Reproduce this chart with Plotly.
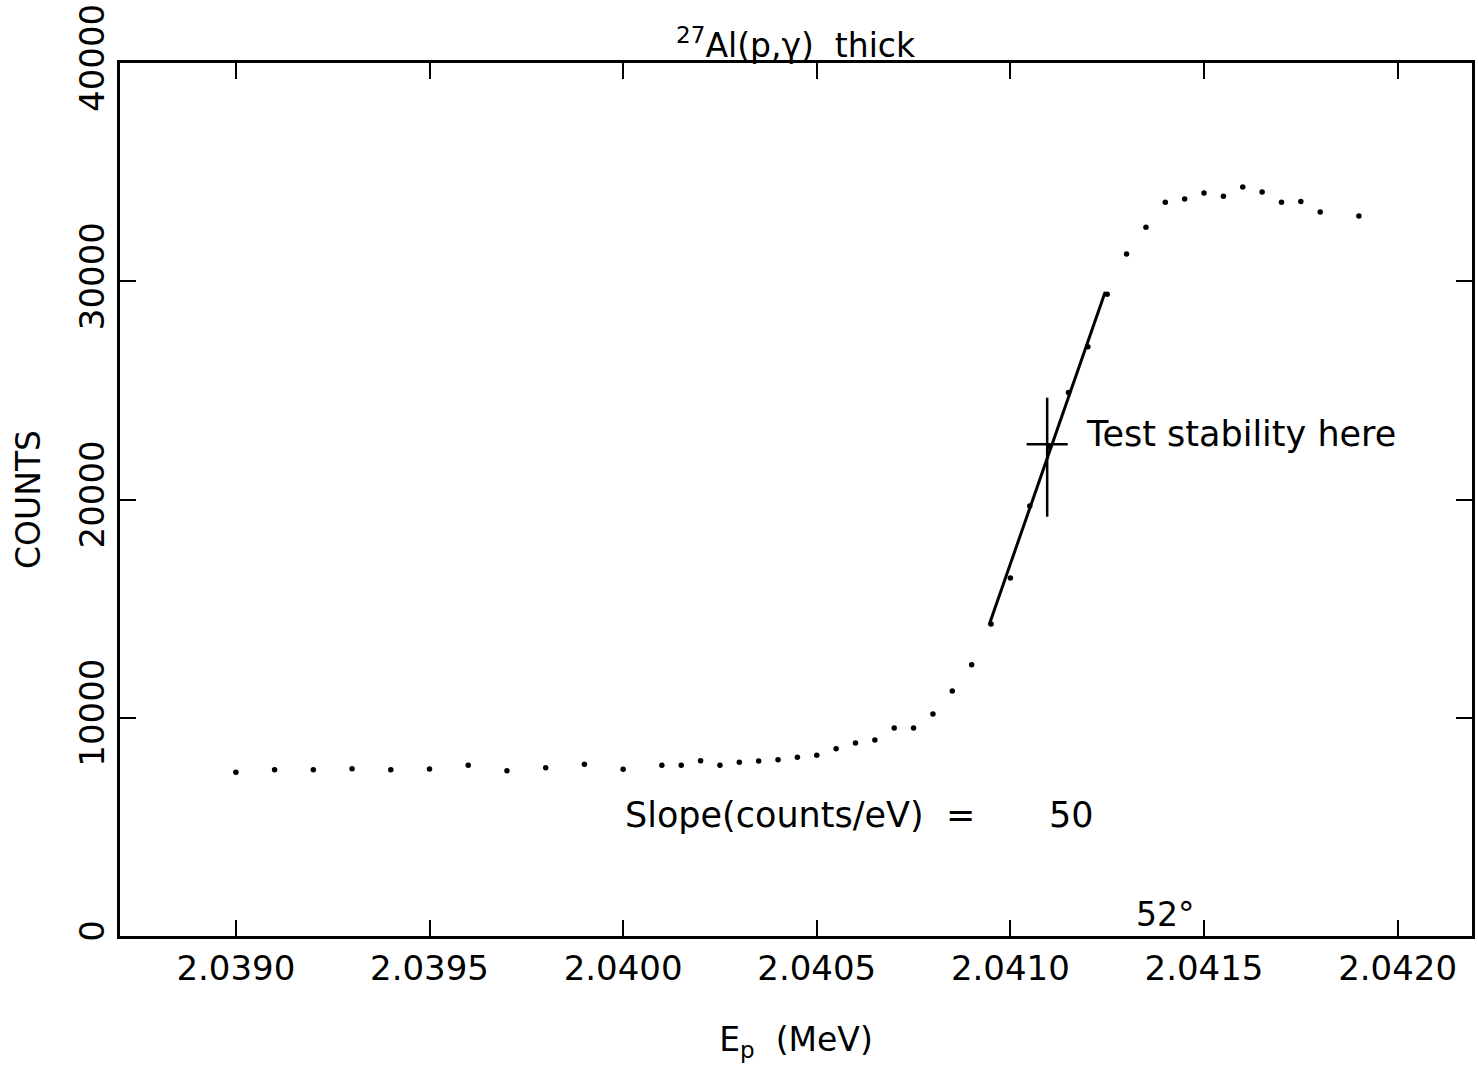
import plotly.graph_objects as go

# ---- data ----
energy_mev = [2.0390, 2.0391, 2.0392, 2.0393, 2.0394, 2.0395, 2.0396, 2.0397,
              2.0398, 2.0399, 2.0400, 2.0401, 2.04015, 2.0402, 2.04025, 2.0403,
              2.04035, 2.0404, 2.04045, 2.0405, 2.04055, 2.0406, 2.04065, 2.0407,
              2.04075, 2.0408, 2.04085, 2.0409, 2.04095, 2.0410, 2.04105, 2.0411,
              2.04115, 2.0412, 2.04125, 2.0413, 2.04135, 2.0414, 2.04145, 2.0415,
              2.04155, 2.0416, 2.04165, 2.0417, 2.04175, 2.0418, 2.0419]
counts = [7500, 7620, 7620, 7665, 7620, 7650, 7820, 7575,
          7710, 7870, 7640, 7820, 7820, 8030, 7820, 7960,
          8020, 8080, 8190, 8280, 8580, 8840, 8980, 9530,
          9530, 10170, 11230, 12430, 14300, 16400, 19700, 22400,
          24900, 27000, 29400, 31250, 32470, 33620, 33770, 34040,
          33890, 34320, 34090, 33620, 33650, 33170, 32990]

fit_x = [2.040945, 2.041245]
fit_y = [14250, 29520]

test_x = [2.041095]
test_y = [22530]
test_err_x = [0.000053]
test_err_y_plus = [2135]
test_err_y_minus = [3318]

x_ticks = [2.0390, 2.0395, 2.0400, 2.0405, 2.0410, 2.0415, 2.0420]
y_ticks = [0, 10000, 20000, 30000, 40000]

FONT = "DejaVu Sans"

fig = go.Figure()

fig.add_trace(go.Scatter(
    x=energy_mev, y=counts, mode="markers",
    marker=dict(color="black", size=5.5), showlegend=False))

fig.add_trace(go.Scatter(
    x=fit_x, y=fit_y, mode="lines",
    line=dict(color="black", width=3), showlegend=False))

fig.add_trace(go.Scatter(
    x=test_x, y=test_y, mode="markers",
    marker=dict(color="black", size=1),
    error_x=dict(type="data", array=test_err_x, width=0, thickness=2.5, color="black"),
    error_y=dict(type="data", array=test_err_y_plus, arrayminus=test_err_y_minus,
                 symmetric=False, width=0, thickness=2.5, color="black"),
    showlegend=False))

axis_common = dict(
    showline=True, linecolor="black", linewidth=2.5, mirror="ticks",
    ticks="inside", ticklen=16, tickwidth=2, tickcolor="black",
    showgrid=False, zeroline=False,
    tickfont=dict(family=FONT, size=34, color="black"),
)

fig.update_xaxes(
    range=[2.0387008, 2.042192],
    tickvals=x_ticks, ticktext=[f"{v:.4f}" for v in x_ticks],
    title=dict(text="E<sub>p</sub>  (MeV)", font=dict(family=FONT, size=33, color="black"),
               standoff=42),
    **axis_common)

fig.update_yaxes(
    range=[0, 40000],
    tickvals=y_ticks, ticktext=[str(v) for v in y_ticks], tickangle=-90,
    title=dict(text="COUNTS", font=dict(family=FONT, size=33, color="black"),
               standoff=22),
    **axis_common)

fig.add_annotation(
    text="<sup>27</sup>Al(p,γ)  thick", xref="paper", yref="paper",
    x=0.5, y=1, xanchor="center", yanchor="bottom", yshift=-4, showarrow=False,
    font=dict(family=FONT, size=33, color="black"))

fig.add_annotation(
    text="Test stability here", xref="x", yref="y",
    x=2.04119, y=23000, xanchor="left", yanchor="middle", showarrow=False,
    font=dict(family=FONT, size=35, color="black"))

fig.add_annotation(
    text="Slope(counts/eV)  =", xref="x", yref="y",
    x=2.0400, y=5550, xanchor="left", yanchor="middle", showarrow=False,
    font=dict(family=FONT, size=35, color="black"))

fig.add_annotation(
    text="50", xref="x", yref="y",
    x=2.04122, y=5550, xanchor="right", yanchor="middle", showarrow=False,
    font=dict(family=FONT, size=35, color="black"))

fig.add_annotation(
    text="52°", xref="x", yref="y",
    x=2.04132, y=1000, xanchor="left", yanchor="middle", showarrow=False,
    font=dict(family=FONT, size=33, color="black"))

fig.update_layout(
    width=1478, height=1075,
    margin=dict(l=120, r=3, t=63, b=139),
    paper_bgcolor="white", plot_bgcolor="white",
    font=dict(family=FONT, color="black"),
)

fig.write_html("out.html")
